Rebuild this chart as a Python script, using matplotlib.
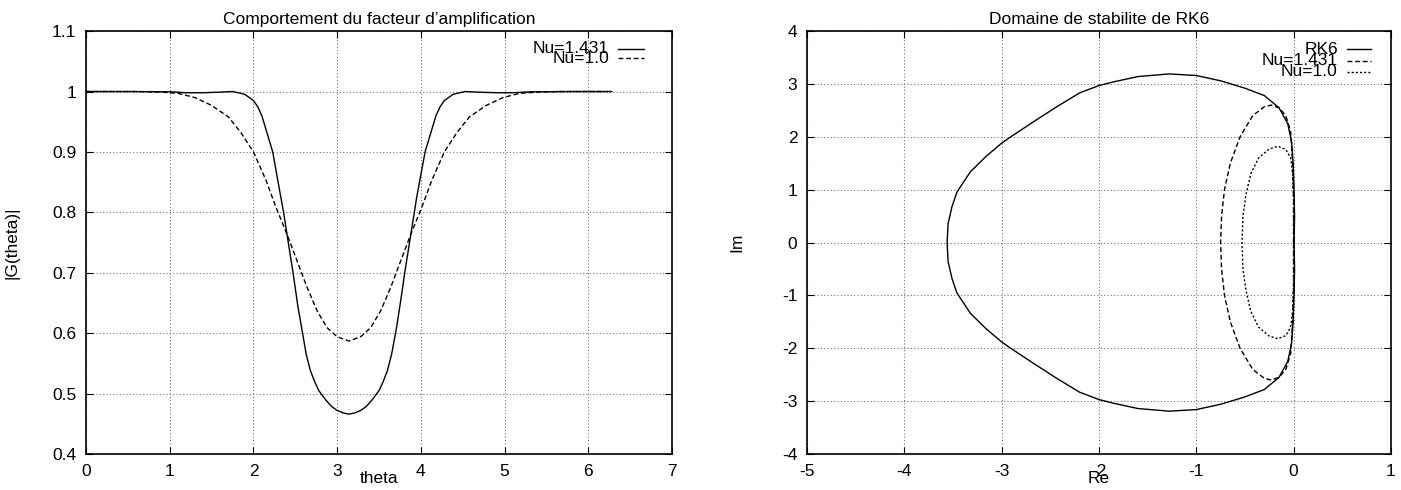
import matplotlib
matplotlib.use('Agg')
import matplotlib.pyplot as plt

plt.rcParams['font.family'] = ['Liberation Sans', 'DejaVu Sans']
plt.rcParams['axes.unicode_minus'] = False

# |G(theta)| curves
theta_a = [0.0, 0.5, 1.0, 1.2, 1.4, 1.6, 1.75, 1.85, 1.9, 1.95, 2.0, 2.05, 2.1, 2.15, 2.23, 2.31, 2.36,
           2.41, 2.47, 2.53, 2.58, 2.63, 2.68, 2.73, 2.78, 2.86, 2.93, 3.0, 3.07, 3.14, 3.21, 3.28,
           3.35, 3.42, 3.5, 3.55, 3.6, 3.65, 3.71, 3.76, 3.81, 3.87, 3.95, 4.05, 4.13, 4.18, 4.23,
           4.28, 4.33, 4.38, 4.43, 4.53, 4.68, 4.9, 5.1, 5.3, 5.8, 6.28]
g_a = [1.0, 1.0, 0.9995, 0.998, 0.998, 0.999, 1.0, 0.997, 0.995, 0.99, 0.985, 0.975, 0.96, 0.937, 0.9,
       0.838, 0.8, 0.755, 0.703, 0.645, 0.605, 0.565, 0.538, 0.52, 0.505, 0.49, 0.479, 0.472, 0.468,
       0.466, 0.468, 0.472, 0.479, 0.49, 0.505, 0.52, 0.538, 0.565, 0.61, 0.655, 0.703, 0.755,
       0.825, 0.9, 0.937, 0.96, 0.975, 0.985, 0.99, 0.995, 0.997, 1.0, 0.999, 0.998, 0.998,
       0.9995, 1.0, 1.0]

theta_b = [0.0, 0.6, 0.9, 1.1, 1.3, 1.5, 1.7, 1.85, 2.0, 2.15, 2.27, 2.4, 2.52, 2.64, 2.76, 2.88,
           3.0, 3.14, 3.28, 3.4, 3.52, 3.64, 3.76, 3.88, 4.01, 4.13, 4.28, 4.43, 4.58, 4.78, 4.98,
           5.18, 5.38, 5.68, 6.28]
g_b = [1.0, 1.0, 0.999, 0.997, 0.99, 0.977, 0.958, 0.932, 0.9, 0.853, 0.808, 0.764, 0.72, 0.676, 0.637, 0.609,
       0.594, 0.587, 0.594, 0.609, 0.637, 0.676, 0.72, 0.764, 0.808, 0.853, 0.9, 0.932, 0.958, 0.977, 0.99,
       0.997, 0.999, 1.0, 1.0]

# stability domain boundaries
re_rk6 = [0.005, 0.01, 0.005, -0.005, -0.02, -0.06, -0.15, -0.3, -0.5, -0.75, -1.0, -1.28, -1.6, -1.85,
          -2.0, -2.2, -2.45, -2.66, -2.89, -3.0, -3.16, -3.32, -3.4, -3.46, -3.51, -3.55, -3.56,
          -3.55, -3.51, -3.46, -3.4, -3.32, -3.16, -3.0, -2.89, -2.66, -2.45, -2.2, -2.0, -1.85,
          -1.6, -1.28, -1.0, -0.75, -0.5, -0.3, -0.15, -0.06, -0.02, -0.005, 0.005, 0.01, 0.005]
im_rk6 = [0.0, 0.5, 1.0, 1.5, 1.9, 2.25, 2.55, 2.78, 2.92, 3.06, 3.16, 3.19, 3.14, 3.04,
          2.97, 2.83, 2.55, 2.3, 2.02, 1.88, 1.63, 1.34, 1.12, 0.95, 0.68, 0.36, 0.0,
          -0.36, -0.68, -0.95, -1.12, -1.34, -1.63, -1.88, -2.02, -2.3, -2.55, -2.83, -2.97, -3.04,
          -3.14, -3.19, -3.16, -3.06, -2.92, -2.78, -2.55, -2.25, -1.9, -1.5, -1.0, -0.5, 0.0]

re_nu1 = [0.0, 0.0, -0.01, -0.03, -0.08, -0.15, -0.23, -0.3, -0.42, -0.55, -0.65, -0.71, -0.74, -0.75,
          -0.74, -0.71, -0.65, -0.55, -0.42, -0.3, -0.23, -0.15, -0.08, -0.03, -0.01, 0.0, 0.0]
im_nu1 = [0.0, 0.8, 1.5, 2.1, 2.4, 2.55, 2.6, 2.57, 2.4, 2.0, 1.5, 1.0, 0.5, 0.0,
          -0.5, -1.0, -1.5, -2.0, -2.4, -2.57, -2.6, -2.55, -2.4, -2.1, -1.5, -0.8, 0.0]

re_nu2 = [0.0, 0.0, -0.01, -0.03, -0.08, -0.16, -0.25, -0.36, -0.44, -0.49, -0.52, -0.53,
          -0.52, -0.49, -0.44, -0.36, -0.25, -0.16, -0.08, -0.03, -0.01, 0.0, 0.0]
im_nu2 = [0.0, 0.8, 1.3, 1.6, 1.76, 1.82, 1.77, 1.6, 1.3, 0.9, 0.5, 0.0,
          -0.5, -0.9, -1.3, -1.6, -1.77, -1.82, -1.76, -1.6, -1.3, -0.8, 0.0]

left_yticks = [0.4, 0.5, 0.6, 0.7, 0.8, 0.9, 1.0, 1.1]
left_ylabels = ['0.4', '0.5', '0.6', '0.7', '0.8', '0.9', '1', '1.1']

DASH = (0, (3.5, 2))
DOT = (0, (1.5, 1.5))
FS = 12.5


def gnuplot_style(ax):
    ax.grid(True, color='0.45', linestyle=(0, (1, 2)), linewidth=0.8)
    ax.tick_params(direction='in', top=True, right=True, length=5, width=0.8,
                   labelsize=FS, pad=7)
    for s in ax.spines.values():
        s.set_linewidth(1.2)


def legend_entry(ax, y, label, ls, x_text, x0, x1):
    ax.text(x_text, y, label, transform=ax.transAxes, ha='right', va='center', fontsize=FS)
    ax.plot([x0, x1], [y, y], transform=ax.transAxes, color='black', lw=1.0, ls=ls,
            clip_on=False)


fig = plt.figure(figsize=(14.01, 4.9), dpi=100)
ax1 = fig.add_axes([0.0614, 0.0735, 0.4183, 0.863])
ax2 = fig.add_axes([0.576, 0.0735, 0.4168, 0.863])

# left panel
ax1.plot(theta_a, g_a, color='black', lw=1.0)
ax1.plot(theta_b, g_b, color='black', lw=1.0, ls=DASH)
ax1.set_xlim(0, 7)
ax1.set_ylim(0.4, 1.1)
ax1.set_xticks(range(0, 8))
ax1.set_yticks(left_yticks)
ax1.set_yticklabels(left_ylabels)
gnuplot_style(ax1)
ax1.set_title('Comportement du facteur d’amplification', fontsize=FS, pad=5)
ax1.set_xlabel('theta', fontsize=FS, va='center')
ax1.xaxis.set_label_coords(0.5, -0.057)
ax1.set_ylabel('|G(theta)|', fontsize=FS, va='center')
ax1.yaxis.set_label_coords(-0.126, 0.5)
legend_entry(ax1, 0.9586, 'Nu=1.431', '-', 0.8925, 0.908, 0.952)
legend_entry(ax1, 0.936, 'Nu=1.0', DASH, 0.8925, 0.908, 0.952)

# right panel
ax2.plot(re_rk6, im_rk6, color='black', lw=1.0)
ax2.plot(re_nu1, im_nu1, color='black', lw=1.0, ls=DASH)
ax2.plot(re_nu2, im_nu2, color='black', lw=1.0, ls=DOT)
ax2.set_xlim(-5, 1)
ax2.set_ylim(-4, 4)
ax2.set_xticks(range(-5, 2))
ax2.set_yticks(range(-4, 5))
gnuplot_style(ax2)
ax2.set_title('Domaine de stabilite de RK6', fontsize=FS, pad=5)
ax2.set_xlabel('Re', fontsize=FS, va='center')
ax2.xaxis.set_label_coords(0.5, -0.057)
ax2.set_ylabel('Im', fontsize=FS, va='center')
ax2.yaxis.set_label_coords(-0.12, 0.5)
legend_entry(ax2, 0.9574, 'RK6', '-', 0.909, 0.9247, 0.9658)
legend_entry(ax2, 0.930, 'Nu=1.431', DASH, 0.909, 0.9247, 0.9658)
legend_entry(ax2, 0.904, 'Nu=1.0', DOT, 0.909, 0.9247, 0.9658)

fig.savefig('out.png', dpi=100)
